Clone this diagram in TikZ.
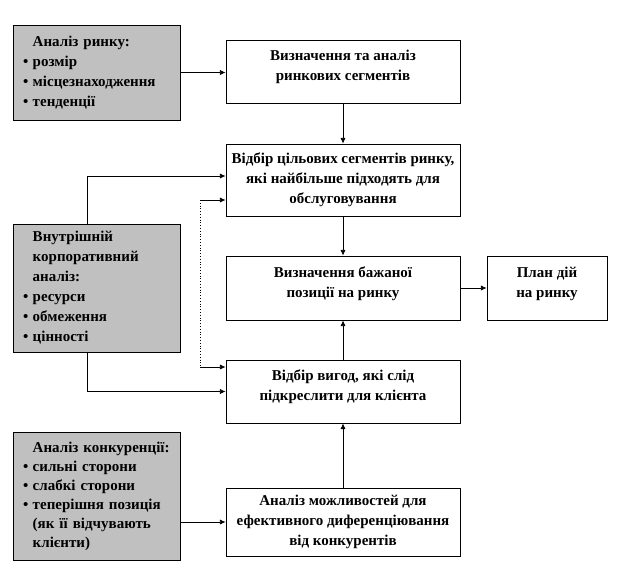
\documentclass[tikz,border=0pt]{standalone}
\usepackage{fontspec}
\setmainfont{Liberation Serif}
\usepackage{xcolor}
\usetikzlibrary{arrows.meta,positioning}
\definecolor{MktGray}{HTML}{C0C0C0}
\definecolor{MktBlack}{HTML}{000000}
\newcommand{\bitem}[1]{\mbox{\makebox[0.65em][l]{\textbullet}#1}}
\newcommand{\bcont}[1]{\mbox{\hspace*{0.65em}#1}}
\newcommand{\lift}{\rule[-12pt]{0pt}{12pt}}
\tikzset{
  >=Latex,
  every node/.style = {font=\fontsize{15}{20}\selectfont\bfseries, text=MktBlack},
  stepbox/.style = {
    draw=MktBlack,
    fill=white,
    line width=0.8pt,
    minimum width=234pt,
    align=center,
    inner sep=3pt
  },
  inputbox/.style = {
    draw=MktBlack,
    fill=MktGray,
    line width=0.8pt,
    minimum width=167pt,
    text width=147pt,
    align=left,
    inner xsep=10pt,
    inner ysep=4pt
  },
  link/.style = {-{Latex[length=2mm,width=1.8mm]}, draw=MktBlack, line width=0.7pt},
  link dotted/.style = {draw=MktBlack, line width=0.8pt, dotted},
}
\begin{document}
\begin{tikzpicture}[x=1pt,y=-1pt]
  \useasboundingbox (0,0) rectangle (620,584);

  % left column: inputs
  \node[inputbox, minimum height=95pt] (market) at (96.5,72.5)
    {\bcont{Аналіз ринку:}\\ \bitem{розмір}\\ \bitem{місцезнаходження}\\ \bitem{тенденції}};
  \node[inputbox, minimum height=128pt] (internal) at (96.5,288)
    {\bcont{Внутрішній}\\ \bcont{корпоративний}\\ \bcont{аналіз:}\\ \bitem{ресурси}\\ \bitem{обмеження}\\ \bitem{цінності}};
  \node[inputbox, minimum height=128pt, font=\fontsize{15}{19}\selectfont\bfseries] (rivals) at (96.5,496)
    {\bcont{Аналіз конкуренції:}\\ \bitem{сильні сторони}\\ \bitem{слабкі сторони}\\ \bitem{теперішня позиція}\\ \bcont{(як її відчувають}\\ \bcont{клієнти)}};

  % middle column: steps
  \node[stepbox, minimum height=63pt] (segments) at (343,71.5)
    {Визначення та аналіз\\ ринкових сегментів\lift};
  \node[stepbox, minimum height=72pt] (targets) at (343,180)
    {Відбір цільових сегментів ринку,\\ які найбільше підходять для\\ обслуговування};
  \node[stepbox, minimum height=64pt] (position) at (343,288)
    {Визначення бажаної\\ позиції на ринку\lift};
  \node[stepbox, minimum height=63pt] (benefits) at (343,391.5)
    {Відбір вигод, які слід\\ підкреслити для клієнта\lift};
  \node[stepbox, minimum height=68pt] (differ) at (343,522)
    {Аналіз можливостей для\\ ефективного диференціювання\\ від конкурентів};

  % right column
  \node[stepbox, minimum width=120pt, minimum height=64pt] (plan) at (547,288)
    {План дій\\ на ринку\lift};

  \coordinate (dotTop) at (200,200);
  \coordinate (dotBot) at (200,367);

  \draw[link] (market.east) -- (market.east -| segments.west);
  \draw[link] (segments.south) -- (targets.north);
  \draw[link] ([xshift=-9.5pt]internal.north) |- ([yshift=4pt]targets.west);
  \draw[link] (dotTop) -- (dotTop -| targets.west);
  \draw[link dotted] (dotTop) -- (dotBot);
  \draw[link] (dotBot) -- (dotBot -| benefits.west);
  \draw[link] ([xshift=-9.5pt]internal.south) |- (benefits.west);
  \draw[link] (targets.south) -- (position.north);
  \draw[link] (benefits.north) -- (position.south);
  \draw[link] (position.east) -- (plan.west);
  \draw[link] (differ.north) -- (benefits.south);
  \draw[link] (rivals.east |- differ.west) -- (differ.west);
\end{tikzpicture}
\end{document}
